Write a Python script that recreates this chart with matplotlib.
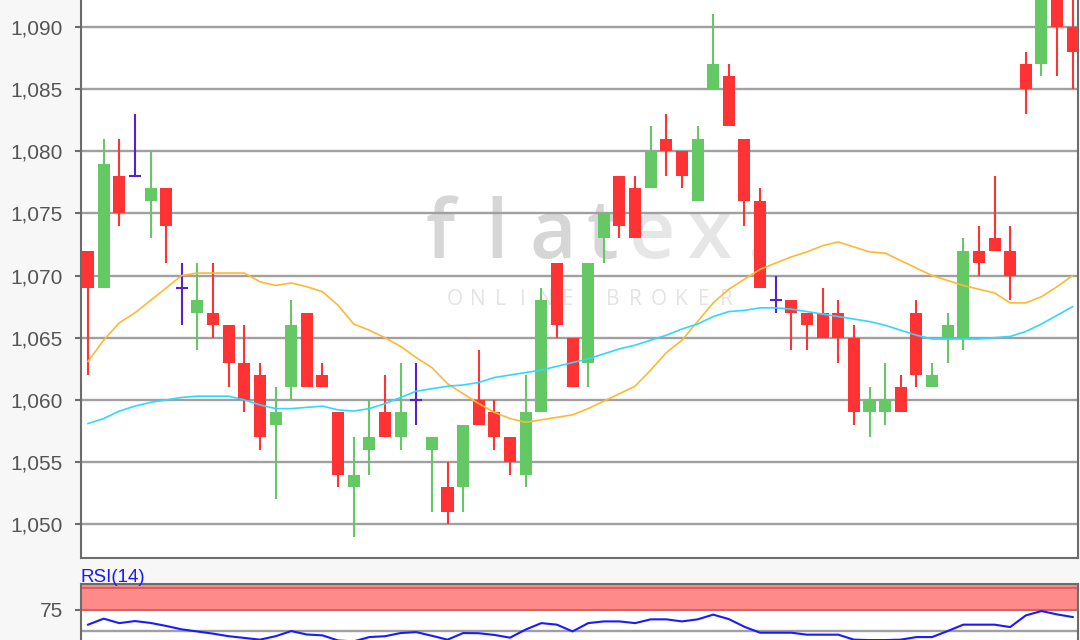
import matplotlib
matplotlib.use('Agg')
import matplotlib.pyplot as plt

# OHLC per session
opens = [1072, 1069, 1078, 1078, 1076, 1077, 1069, 1067, 1067, 1066, 1063, 1062, 1058, 1061, 1067, 1062,
         1059, 1053, 1056, 1059, 1057, 1060, 1056, 1053, 1053, 1060, 1059, 1057, 1054, 1059, 1071, 1065,
         1063, 1073, 1078, 1077, 1077, 1081, 1080, 1076, 1085, 1086, 1081, 1076, 1068, 1068, 1067, 1067,
         1067, 1065, 1059, 1059, 1061, 1067, 1061, 1065, 1065, 1072, 1073, 1072, 1087, 1087, 1094, 1090]
highs = [1072, 1081, 1081, 1083, 1080, 1077, 1071, 1071, 1071, 1066, 1066, 1063, 1061, 1068, 1067, 1063,
         1059, 1057, 1060, 1062, 1063, 1063, 1057, 1055, 1058, 1064, 1060, 1057, 1062, 1069, 1071, 1065,
         1071, 1075, 1078, 1078, 1082, 1083, 1080, 1082, 1091, 1087, 1081, 1077, 1070, 1068, 1067, 1069,
         1068, 1066, 1061, 1063, 1062, 1068, 1063, 1067, 1073, 1074, 1078, 1074, 1088, 1095, 1095, 1094]
lows = [1062, 1069, 1074, 1078, 1073, 1071, 1066, 1064, 1065, 1061, 1059, 1056, 1052, 1060, 1061, 1061,
        1053, 1049, 1054, 1057, 1056, 1058, 1051, 1050, 1051, 1058, 1056, 1054, 1053, 1059, 1065, 1061,
        1061, 1071, 1073, 1073, 1077, 1078, 1077, 1076, 1085, 1082, 1074, 1069, 1067, 1064, 1064, 1065,
        1063, 1058, 1057, 1058, 1059, 1061, 1061, 1063, 1064, 1070, 1072, 1068, 1083, 1086, 1086, 1085]
closes = [1069, 1079, 1075, 1078, 1077, 1074, 1069, 1068, 1066, 1063, 1060, 1057, 1059, 1066, 1061, 1061,
          1054, 1054, 1057, 1057, 1059, 1060, 1057, 1051, 1058, 1058, 1057, 1055, 1059, 1068, 1066, 1061,
          1071, 1075, 1074, 1073, 1080, 1080, 1078, 1081, 1087, 1082, 1076, 1069, 1068, 1067, 1066, 1065,
          1065, 1059, 1060, 1060, 1059, 1062, 1062, 1066, 1072, 1071, 1072, 1070, 1085, 1094, 1090, 1088]

# moving averages (orange = short, cyan = long)
ma_short = [1063.1, 1064.8, 1066.2, 1067.0, 1068.0, 1069.0, 1070.0, 1070.2, 1070.2, 1070.2, 1070.2, 1069.5,
            1069.2, 1069.4, 1069.1, 1068.7, 1067.6, 1066.1, 1065.6, 1065.0, 1064.3, 1063.4, 1062.6, 1061.3,
            1060.5, 1059.7, 1059.0, 1058.5, 1058.2, 1058.4, 1058.6, 1058.8, 1059.3, 1059.9, 1060.5, 1061.1,
            1062.4, 1063.8, 1064.8, 1066.3, 1067.8, 1068.9, 1069.7, 1070.5, 1071.0, 1071.5, 1071.9, 1072.4,
            1072.7, 1072.3, 1071.9, 1071.8, 1071.2, 1070.6, 1070.0, 1069.6, 1069.2, 1068.9, 1068.6, 1067.8,
            1067.8, 1068.3, 1069.1, 1070.0]
ma_long = [1058.1, 1058.5, 1059.1, 1059.5, 1059.8, 1060.0, 1060.2, 1060.3, 1060.3, 1060.3, 1060.0, 1059.6,
           1059.3, 1059.3, 1059.4, 1059.5, 1059.2, 1059.1, 1059.3, 1059.7, 1060.2, 1060.7, 1060.9, 1061.1,
           1061.2, 1061.4, 1061.8, 1062.0, 1062.2, 1062.4, 1062.7, 1063.0, 1063.3, 1063.7, 1064.1, 1064.4,
           1064.8, 1065.2, 1065.7, 1066.1, 1066.7, 1067.1, 1067.2, 1067.4, 1067.4, 1067.3, 1067.1, 1066.9,
           1066.7, 1066.5, 1066.3, 1066.0, 1065.6, 1065.2, 1064.9, 1064.9, 1064.9, 1064.9, 1065.0, 1065.1,
           1065.5, 1066.1, 1066.8, 1067.5]

rsi = [57.5, 64.5, 59.3, 61.7, 59.5, 56, 52, 49.5, 47, 44, 42, 40, 44, 50, 46, 45,
       39, 38, 43, 44, 47.7, 48.8, 44.5, 40, 47.7, 47.5, 45.5, 42.3, 51.8, 59.3, 57.5, 49.6,
       59.3, 61.3, 61.3, 59.3, 63.7, 63.7, 61.3, 63.7, 69.2, 64, 55, 48.1, 48.1, 48.1, 45.8, 45.8,
       45.8, 40, 39.5, 39.5, 40, 43, 43, 50, 57.5, 57.5, 57.5, 54.7, 68.3, 73.4, 69.5, 66.4]

price_ticks = [1050, 1055, 1060, 1065, 1070, 1075, 1080, 1085, 1090]
price_labels = ['1,050', '1,055', '1,060', '1,065', '1,070', '1,075', '1,080', '1,085', '1,090']
rsi_ticks = [75]

UP = '#64c864'
DOWN = '#ff3333'
DOJI = '#5522cc'
SPINE = '#6c6c6c'
GRID = '#a0a0a0'

plt.rcParams['font.family'] = ['Liberation Sans', 'DejaVu Sans']

W, H = 1080, 640
fig = plt.figure(figsize=(W / 100, H / 100), dpi=100, facecolor='#f7f7f7')

# ---- price panel ----
ax = fig.add_axes([81 / W, 1 - 558 / H, (1078 - 81) / W, 558 / H])
ax.set_facecolor('white')
ax.set_xlim(-0.45, 63.34)
ax.set_ylim(1047.29, 1092.15)

for t in price_ticks:
    ax.axhline(t, color=GRID, lw=1.7, zorder=1)

# watermark
wm = [('f', 440, '#d6d6d6'), ('l', 497, '#d6d6d6'), ('a', 553, '#d6d6d6'), ('t', 602, '#d6d6d6'),
      ('e', 652, '#e6e6e6'), ('x', 709, '#e6e6e6'), ('.', 758, '#e2e2e2')]
for ch, px, col in wm:
    ax.text(px / W, 1 - 258 / H, ch, transform=fig.transFigure, ha='center', va='baseline',
            fontsize=58, color=col, family='Open Sans', fontweight='semibold', zorder=0.8)
for k, ch in enumerate('ONLINE BROKER'):
    ax.text((455 + k * 22.6) / W, 1 - 305 / H, ch, transform=fig.transFigure, ha='center',
            va='baseline', fontsize=15, color='#e4e4e4', family='Open Sans', zorder=0.8)

x = list(range(len(opens)))
for i in x:
    o, h, l, c = opens[i], highs[i], lows[i], closes[i]
    if o == c:
        ax.vlines(i, l, h, color=DOJI, lw=1.5, zorder=3)
        ax.hlines(o, i - 0.38, i + 0.38, color=DOJI, lw=1.5, zorder=3)
        continue
    col = UP if c > o else DOWN
    ax.vlines(i, l, h, color=col, lw=1.5, zorder=3)
    ax.bar(i, abs(c - o), bottom=min(o, c), width=0.77, color=col, zorder=3)

ax.plot(x, ma_short, color='#ffb833', lw=1.2, zorder=4)
ax.plot(x, ma_long, color='#33d6ff', lw=1.2, zorder=4)

ax.set_yticks(price_ticks)
ax.set_yticklabels(price_labels)
ax.set_xticks([])
ax.tick_params(axis='y', length=4.5, width=1.5, color=SPINE, pad=8.5, labelsize=15, labelcolor='#555555')
ax.spines['top'].set_visible(False)
for s in ['left', 'right', 'bottom']:
    ax.spines[s].set_color(SPINE)
    ax.spines[s].set_linewidth(1.5)

# ---- RSI panel ----
top = 1 - 584 / H
bottom = -0.15
ax2 = fig.add_axes([81 / W, bottom, (1078 - 81) / W, top - bottom])
ax2.set_facecolor('white')
ax2.set_xlim(-0.45, 63.34)
span_px = (top - bottom) * H
ax2.set_ylim(105.0 - span_px * 25 / 21.4, 105.0)
ax2.axhspan(75, 105, color='#ff8a8a', lw=0, zorder=1)
ax2.axhline(100, color='#d86262', lw=1.5, zorder=2)
ax2.axhline(75, color='#d86262', lw=1.5, zorder=2)
ax2.axhline(50, color=GRID, lw=1.7, zorder=1)
ax2.plot(x, rsi, color='#1a1aff', lw=1.5, zorder=3)
ax2.set_yticks(rsi_ticks)
ax2.set_xticks([])
ax2.tick_params(axis='y', length=4.5, width=1.5, color=SPINE, pad=8.5, labelsize=15, labelcolor='#555555')
for s in ax2.spines.values():
    s.set_color(SPINE)
    s.set_linewidth(1.5)

fig.text(81 / W, 1 - 582 / H, 'RSI(14)', color='#1a1aff', fontsize=13.5, va='baseline', ha='left')

fig.savefig('out.png', dpi=100, facecolor=fig.get_facecolor())
